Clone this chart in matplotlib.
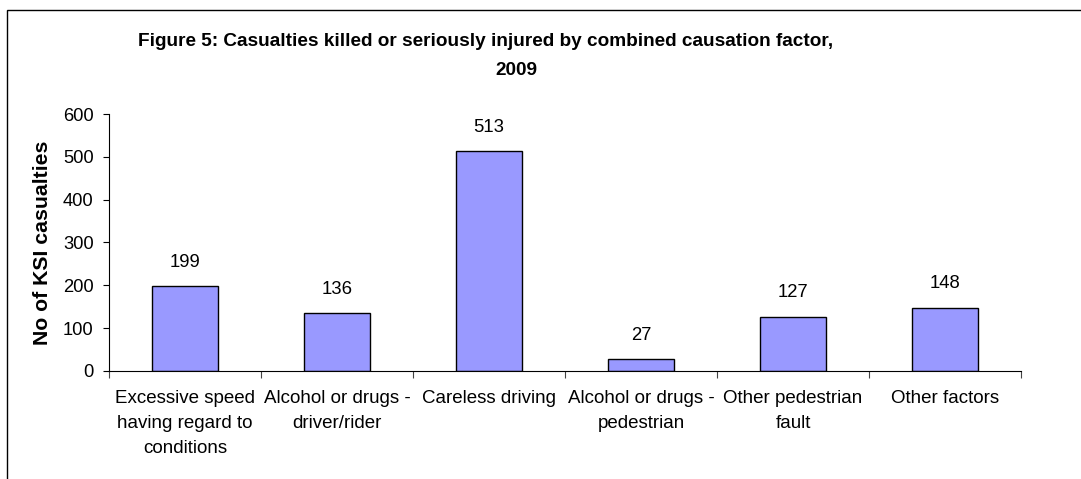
import matplotlib
matplotlib.use('Agg')
import matplotlib.pyplot as plt
from matplotlib.patches import Rectangle

# Дані діаграми
categories = ['Excessive speed\nhaving regard to\nconditions',
              'Alcohol or drugs -\ndriver/rider',
              'Careless driving',
              'Alcohol or drugs -\npedestrian',
              'Other pedestrian\nfault',
              'Other factors']
values = [199, 136, 513, 27, 127, 148]
y_ticks = [0, 100, 200, 300, 400, 500, 600]

plt.rcParams['font.family'] = ['Liberation Sans', 'DejaVu Sans']

fig = plt.figure(figsize=(10.81, 4.79), dpi=100)
ax = fig.add_axes([0.1008, 0.2255, 0.8437, 0.5365])

x = range(len(values))
bars = ax.bar(x, values, width=0.43, color='#9999ff', edgecolor='black', linewidth=1)
for i, v in enumerate(values):
    ax.annotate(str(v), (i, v), xytext=(0, 17), textcoords='offset points',
                ha='center', va='center', fontsize=13.3)

ax.set_xlim(-0.5, len(values) - 0.5)
ax.set_ylim(0, 600)
ax.set_yticks(y_ticks)
ax.tick_params(axis='y', labelsize=13.2, length=4, width=0.8, pad=7)
ax.set_xticks([i - 0.5 for i in range(len(values) + 1)])
ax.set_xticklabels([])
ax.set_xticks(list(x), minor=True)
ax.set_xticklabels(categories, minor=True, fontsize=13.5, linespacing=1.6, va='top')
ax.tick_params(axis='x', which='major', length=5, width=0.8, color='#444444')
ax.tick_params(axis='x', which='minor', length=0, pad=14)
for s in ['top', 'right']:
    ax.spines[s].set_visible(False)
for s in ['left', 'bottom']:
    ax.spines[s].set_linewidth(0.8)

ax.set_ylabel('No of KSI casualties', fontsize=15.3, fontweight='bold')
ax.yaxis.set_label_coords(-0.063, 0.5)

fig.text(0.4496, 0.913, 'Figure 5: Casualties killed or seriously injured by combined causation factor,',
         ha='center', va='center', fontsize=13.7, fontweight='bold')
fig.text(0.478, 0.852, '2009', ha='center', va='center', fontsize=13.7, fontweight='bold')

# рамка навколо діаграми
fig.patches.append(Rectangle((7 / 1081, -0.1), 1.2, 1 - 10 / 479 + 0.1,
                             transform=fig.transFigure, fill=False,
                             edgecolor='black', linewidth=1))

fig.savefig('out.png', dpi=100)
